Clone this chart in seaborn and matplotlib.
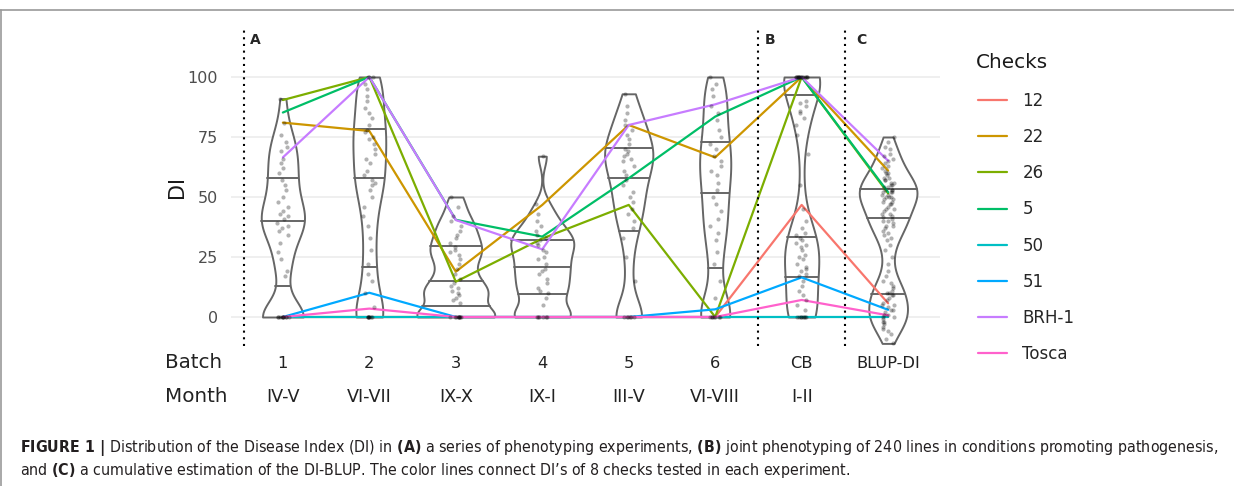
"""Disease Index per phenotyping batch, with the 8 check lines drawn across."""

import matplotlib.pyplot as plt
import numpy as np
import pandas as pd
import seaborn as sns
from matplotlib import font_manager
from matplotlib.lines import Line2D

batches = ["1", "2", "3", "4", "5", "6", "CB", "BLUP-DI"]
months = ["IV-V", "VI-VII", "IX-X", "IX-I", "III-V", "VI-VIII", "I-II", ""]

# DI of the tested lines in each batch
di_batch_1 = [0, 0, 0, 0, 0, 0, 0, 0, 0, 0, 17, 19, 24, 27, 31, 34, 36, 37, 38, 39,
              41, 42, 43, 44, 46, 48, 50, 53, 55, 57, 60, 62, 64, 66, 69, 71, 73, 76, 81, 91]
di_batch_2 = [0, 0, 0, 0, 0, 0, 0, 4, 10, 15, 18, 22, 28, 33, 38, 42, 46, 50, 53, 55, 56, 57,
              59, 61, 64, 66, 68, 70, 72, 74, 75, 77, 78, 80, 83, 85, 87, 90, 92, 95, 97, 100, 100, 100]
di_batch_3 = [0, 0, 0, 0, 0, 0, 0, 0, 0, 6, 7, 8, 9, 10, 11, 12, 13, 14,
              16, 18, 20, 22, 24, 26, 27, 28, 29, 31, 33, 34, 36, 38, 40, 42, 46, 50]
di_batch_4 = [0, 0, 0, 0, 0, 0, 5, 8, 10, 11, 12, 14, 16, 18, 19, 20,
              22, 24, 25, 27, 28, 30, 31, 32, 33, 34, 36, 38, 40, 43, 47, 67]
di_batch_5 = [0, 0, 0, 0, 0, 0, 15, 25, 33, 37, 40, 43, 45, 48, 50, 52, 55, 57,
              59, 61, 63, 65, 66, 67, 68, 69, 70, 72, 74, 76, 78, 80, 82, 85, 88, 93]
di_batch_6 = [0, 0, 0, 0, 0, 0, 0, 8, 15, 22, 27, 32, 35, 38, 41, 44, 47, 50,
              53, 56, 59, 61, 63, 65, 67, 70, 72, 75, 78, 82, 85, 88, 92, 95, 97, 100]
di_batch_cb = [0, 0, 0, 0, 0, 0, 0, 0, 3, 5, 7, 9, 11, 13, 15,
               17, 18, 19, 20, 21, 22, 24, 25, 26, 28, 29, 30, 31, 32, 33,
               34, 35, 37, 40, 45, 55, 68, 76, 80, 83, 85, 86, 88, 89, 90,
               100, 100, 100, 100, 100, 100, 100, 100, 100, 100, 100, 100, 100, 100, 100]
di_batch_blup = [-11, -9, -7, -6, -5, -4, -3, -2, -2, -1, 0, 0, 1, 1, 2, 3, 3, 4, 5, 5, 6, 7, 8, 9, 9,
                 10, 10, 11, 12, 13, 14, 15, 17, 19, 22, 25, 28, 30, 32, 33, 34, 35, 36, 37, 38, 38,
                 39, 40, 40, 41,
                 41.5, 42, 43, 43, 44, 45, 45, 46, 47, 47, 48, 48, 49, 49, 50, 50, 50, 51, 51, 52,
                 52, 52, 53, 53, 53,
                 54, 54, 55, 55, 56, 56, 57, 57, 58, 58, 59, 60, 60, 61, 62, 63, 64, 65, 66, 67,
                 68, 70, 71, 73, 75]

# checks: DI in each batch (same order as batches)
checks = ["12", "22", "26", "5", "50", "51", "BRH-1", "Tosca"]
check_colors = ["#F8766D", "#CD9600", "#7CAE00", "#00BE67",
                "#00BFC4", "#00A9FF", "#C77CFF", "#FF61CC"]
di_12 = [0, 0, 0, 0, 0, 0, 46.7, 5.7]
di_22 = [81, 77.5, 18.9, 46.7, 80, 66.5, 100, 61]
di_26 = [90.4, 100, 14.7, 32.7, 46.7, 0, 100, 51.5]
di_5 = [85.2, 100, 40.5, 33.5, 57.8, 83.5, 100, 52]
di_50 = [0, 0, 0, 0, 0, 0, 0, 0]
di_51 = [0, 10.1, 0, 0, 0, 3.2, 16.5, 3]
di_brh1 = [66.5, 100, 40.4, 28.2, 80, 88.6, 100, 65.1]
di_tosca = [0, 3.5, 0, 0, 0, 0, 7.1, 0.7]

caption_1 = (r"$\bf{FIGURE\ 1\ |}$ Distribution of the Disease Index (DI) in $\bf{(A)}$ a series of "
             r"phenotyping experiments, $\bf{(B)}$ joint phenotyping of 240 lines in conditions "
             r"promoting pathogenesis,")
caption_2 = (r"and $\bf{(C)}$ a cumulative estimation of the DI-BLUP. The color lines connect "
             "DI\u2019s of 8 checks tested in each experiment.")

W, H = 1234, 486

dist = pd.concat(
    [pd.DataFrame({"batch": b, "DI": v}) for b, v in zip(
        batches,
        [di_batch_1, di_batch_2, di_batch_3, di_batch_4,
         di_batch_5, di_batch_6, di_batch_cb, di_batch_blup],
    )],
    ignore_index=True,
)
lines = pd.DataFrame({
    "pos": np.tile(np.arange(len(batches)), len(checks)),
    "DI": np.concatenate([di_12, di_22, di_26, di_5, di_50, di_51, di_brh1, di_tosca]),
    "check": np.repeat(checks, len(batches)),
})

sns.set_theme(style="whitegrid", rc={"grid.color": "#ebebeb", "grid.linewidth": 1.1})
plt.rcParams["font.family"] = ["DejaVu Sans"]

# the caption is set in a narrow face; pick the narrowest one installed
fonts = font_manager.fontManager.ttflist
cap_kw = {"family": "Liberation Sans"}
cap_rm = "Liberation Sans"
if any(f.name == "Liberation Sans Narrow" for f in fonts):
    cap_kw = {"family": "Liberation Sans Narrow"}
    cap_rm = "Liberation Sans Narrow"
elif any(f.name == "DejaVu Sans" and f.stretch == "condensed" for f in fonts):
    cap_kw = {"family": "DejaVu Sans", "fontstretch": "condensed"}
    cap_rm = "DejaVu Sans:stretch=condensed"
plt.rcParams["mathtext.fontset"] = "custom"
plt.rcParams["mathtext.rm"] = cap_rm
plt.rcParams["mathtext.bf"] = cap_rm + ":weight=bold"

fig = plt.figure(figsize=(W / 100, H / 100), dpi=100)
ax = fig.add_axes([231 / W, 1 - 345.8 / H, 709 / W, 316.8 / H])

sns.violinplot(data=dist, x="batch", y="DI", order=batches, density_norm="area", cut=0,
               inner="quart", bw_method="silverman", bw_adjust=0.5, width=0.9,
               color="white", linecolor="#666666", linewidth=1.4, saturation=1, ax=ax)
for ln in ax.lines:
    ln.set_linestyle("-")

np.random.seed(7)
sns.stripplot(data=dist, x="batch", y="DI", order=batches, jitter=0.07, size=3,
              color="black", alpha=0.3, linewidth=0, ax=ax)

sns.lineplot(data=lines, x="pos", y="DI", hue="check", hue_order=checks,
             palette=check_colors, estimator=None, sort=False, linewidth=1.6, ax=ax)

for xv in [-0.45, 5.5, 6.5]:
    ax.axvline(xv, color="black", lw=1.5, ls=(0, (1, 2.2)), zorder=3)
for xv, letter in zip([-0.38, 5.57, 6.63], "ABC"):
    ax.text(xv, 115.4, letter, fontsize=10, fontweight="bold", ha="left", va="center")

ax.set_xlim(-0.6, 7.6)
ax.set_ylim(-12, 120)
ax.set_yticks([0, 25, 50, 75, 100])
ax.grid(axis="x", visible=False)
ax.set_xlabel("")
ax.set_ylabel("DI", fontsize=15, color="#1a1a1a")
ax.yaxis.set_label_coords(-0.0626, 0.5)
ax.tick_params(axis="y", length=0, pad=9.4, labelsize=11.5, labelcolor="#4d4d4d")
ax.tick_params(axis="x", length=0, pad=7, labelsize=11.7, labelcolor="#222222")
sns.despine(ax=ax, left=True, bottom=True)

# second header row under the batches
row_tf = ax.get_xaxis_transform()
for i, m in enumerate(months):
    ax.text(i, -0.1765, m, transform=row_tf, ha="center", va="baseline",
            fontsize=12.7, color="#222222")
ax.text(-0.0931, -0.070, "Batch", transform=ax.transAxes, ha="left", va="baseline",
        fontsize=14.3, color="#222222")
ax.text(-0.0931, -0.1765, "Month", transform=ax.transAxes, ha="left", va="baseline",
        fontsize=14.3, color="#222222")

handles, labels = ax.get_legend_handles_labels()
ax.get_legend().remove()
fig.text(976 / W, 1 - 68 / H, "Checks", fontsize=14.4, ha="left", va="baseline",
         color="#1a1a1a")
fig.legend(handles, labels, loc="upper left", bbox_to_anchor=(978 / W, 1 - 92 / H),
           frameon=False, fontsize=12, handlelength=1.75, handletextpad=0.92,
           labelspacing=1.088, borderpad=0, borderaxespad=0)

# page frame and caption
fig.add_artist(Line2D([0, 1], [1 - 10 / H] * 2, color="#9a9a9a", lw=1.2,
                      transform=fig.transFigure))
fig.add_artist(Line2D([1 / W] * 2, [0, 1 - 10 / H], color="#9a9a9a", lw=1.2,
                      transform=fig.transFigure))
cap1 = fig.text(20 / W, 1 - 448 / H, caption_1, fontsize=10, ha="left", va="center",
                color="#231f20", **cap_kw)
cap2 = fig.text(20 / W, 1 - 470 / H, caption_2, fontsize=10, ha="left", va="center",
                color="#231f20", **cap_kw)
fig.canvas.draw()
fit = 1202 / cap1.get_window_extent(fig.canvas.get_renderer()).width
cap1.set_fontsize(10 * fit)
cap2.set_fontsize(10 * fit)

fig.savefig("out.png", dpi=100, facecolor="white")
